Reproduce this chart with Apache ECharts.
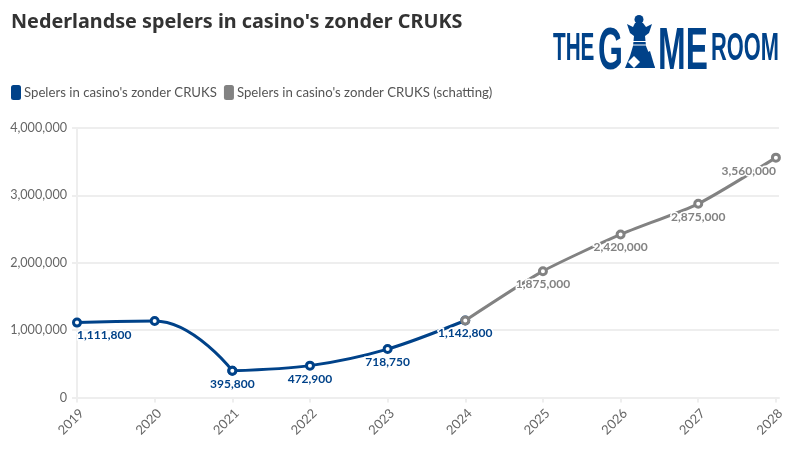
<!DOCTYPE html>
<html><head><meta charset="utf-8">
<style>html,body{margin:0;padding:0;background:#fff}#c{width:800px;height:450px}</style>
<script src="https://cdn.jsdelivr.net/npm/echarts@6/dist/echarts.min.js"></script>
</head><body><div id="c"></div>
<script>
const years = [2019,2020,2021,2022,2023,2024,2025,2026,2027,2028];
const actual = [1111800,1135000,395800,472900,718750,1142800];
const estimate = [1142800,1875000,2420000,2875000,3560000];
const estimateYears = [2024,2025,2026,2027,2028];
const hiddenLabels = [2020];
const hiddenEstimateLabels = [2024];
const seriesNames = ["Spelers in casino's zonder CRUKS","Spelers in casino's zonder CRUKS (schatting)"];
const title = "Nederlandse spelers in casino's zonder CRUKS";
const BLUE='#004289', GREY='#828282', FONT='Lato,"Noto Sans",sans-serif';
const fmt=v=>v.toLocaleString('en-US');
function lbl(color,first,last,hide){
  const o={show:!hide,position:'bottom',distance:2,color,fontFamily:FONT,fontWeight:700,fontSize:12,
    textBorderColor:'#fff',textBorderWidth:3,formatter:p=>fmt(p.value[1])};
  if(first){o.align='left';}
  if(last){o.align='right';}
  return o;
}
const chart=echarts.init(document.getElementById('c'),null,{renderer:'canvas'});
const logoText=(t,x,y,w,h,size)=>({type:'text',x,y,scaleX:w,scaleY:h,style:{text:t,fill:BLUE,font:`700 ${size}px "Liberation Sans"`,textVerticalAlign:'top'}});
const poly=(pts,fill)=>({type:'polygon',shape:{points:pts},style:{fill}});
const lineSeries=(name,xs,vals,color,smooth,mono,first,last,hide,z)=>({
  name,type:'line',smooth,smoothMonotone:mono,z,
  data:vals.map((v,i)=>({value:[xs[i],v],label:lbl(color,first&&i===0,last&&i===vals.length-1,hide.includes(xs[i]))})),
  lineStyle:{color,width:3},itemStyle:{color:'#fff',borderColor:color,borderWidth:3},
  symbol:'circle',symbolSize:7,showAllSymbol:true});
chart.setOption({
  animation:false,
  backgroundColor:'#fff',
  title:{text:title,left:11,top:12,padding:0,textStyle:{fontFamily:'"Noto Sans",sans-serif',fontSize:19.8,fontWeight:700,color:'#333'}},
  legend:{left:11,top:85,padding:0,itemGap:7,itemWidth:10,itemHeight:15,icon:'roundRect',
    textStyle:{fontFamily:FONT,fontSize:13.2,color:'#555',padding:[0,0,0,-2]},
    data:[{name:seriesNames[0],itemStyle:{color:BLUE,borderWidth:0}},{name:seriesNames[1],itemStyle:{color:GREY,borderWidth:0}}]},
  grid:{left:77,top:128,width:702,height:269.5},
  xAxis:{type:'value',min:2019,max:2028.04,
    axisLine:{show:true,lineStyle:{color:'#eee',width:2}},
    axisTick:{show:true,customValues:years,length:5,lineStyle:{color:'#eee',width:2}},
    axisLabel:{customValues:years,rotate:45,verticalAlign:'top',color:'#666',fontFamily:FONT,fontSize:13,margin:9,formatter:v=>String(v)},
    splitLine:{show:false}},
  yAxis:{type:'value',min:0,max:4000000,interval:1000000,
    axisLine:{show:true,lineStyle:{color:'#eee',width:2}},
    axisTick:{show:true,length:5,lineStyle:{color:'#eee',width:2}},
    axisLabel:{color:'#666',fontFamily:FONT,fontSize:12.6,margin:10,formatter:v=>fmt(v)},
    splitLine:{show:true,lineStyle:{color:'#eee',width:2}}},
  series:[
    lineSeries(seriesNames[1],estimateYears,estimate,GREY,0.2,null,false,true,hiddenEstimateLabels,3),
    lineSeries(seriesNames[0],years.slice(0,3),actual.slice(0,3),BLUE,0.5,'x',true,false,hiddenLabels,2),
    lineSeries(seriesNames[0],years.slice(2,6),actual.slice(2),BLUE,0.3,null,false,false,[2021],2)
  ],
  color:[BLUE,GREY],
  graphic:[
    logoText('THE',553,30,0.74,1.4,28),
    logoText('G',598,22.4,0.8,1.49,40),
    logoText('ME',658,22.4,0.83,1.49,40),
    logoText('ROOM',711,30,0.78,1.4,28),
    {type:'circle',shape:{cx:639,cy:19.5,r:4.5},style:{fill:BLUE}},
    poly([[635,23],[633,27],[627,24],[630,33],[634,36],[633,46],[630,56],[625,68],[655,68],[650,56],[646,46],[645,36],[649,33],[652,24],[646,27],[643,23]],BLUE),
    poly([[630,41],[648,41],[648,42],[630,42]],'#fff'),
    poly([[630,44.5],[648,44.5],[648,45.5],[630,45.5]],'#fff'),
    poly([[628,62],[634,56],[640,62],[634,68]],'#fff'),
    poly([[640,56],[650,51],[655,68],[648,68]],BLUE)
  ]
});
</script></body></html>
